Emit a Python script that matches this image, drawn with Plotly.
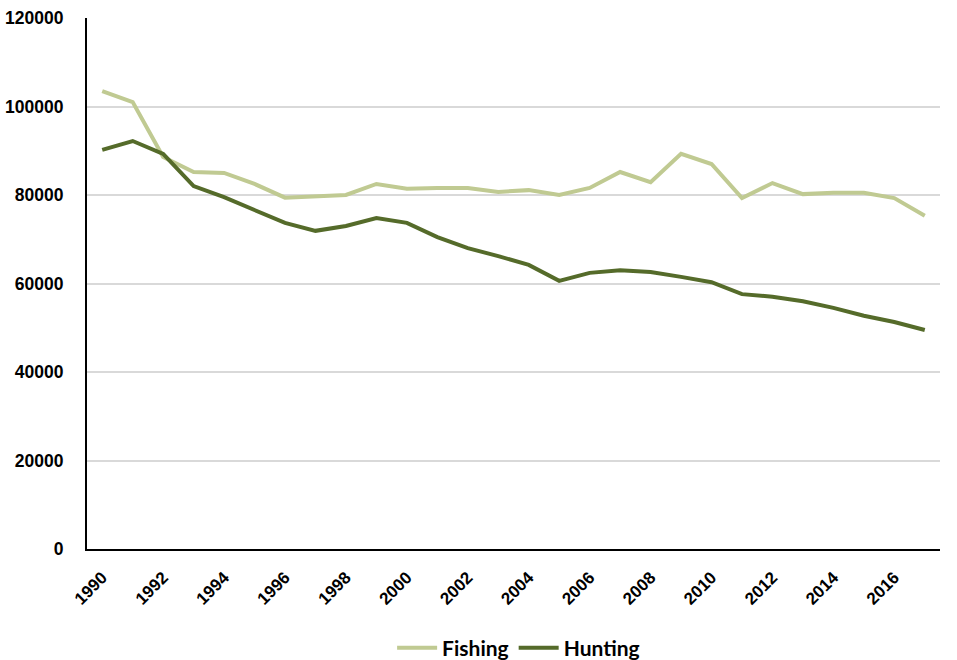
import plotly.graph_objects as go

years = list(range(1990, 2018))
fishing = [103500, 101000, 88600, 85200, 85000, 82500, 79400, 79600, 80000, 82500,
           81400, 81600, 81600, 80700, 81100, 80000, 81600, 85200, 82900, 89300,
           87000, 79300, 82700, 80200, 80500, 80500, 79300, 75300]
hunting = [90200, 92200, 89300, 82000, 79500, 76600, 73700, 71900, 73000, 74800,
           73700, 70500, 68000, 66200, 64200, 60600, 62400, 63000, 62600, 61500,
           60300, 57600, 57000, 56000, 54500, 52700, 51300, 49500]
tick_years = list(range(1990, 2018, 2))

tick_font = "Liberation Sans, Arial, sans-serif"
legend_font = "Lato, Carlito, Calibri, sans-serif"

fig = go.Figure()
fig.add_trace(go.Scatter(x=years, y=fishing, mode="lines", name="Fishing",
                         line=dict(color="#C0CA92", width=4)))
fig.add_trace(go.Scatter(x=years, y=hunting, mode="lines", name="Hunting",
                         line=dict(color="#556B2A", width=4)))

fig.update_layout(
    width=957, height=660,
    margin=dict(l=87, r=17, t=18, b=111, autoexpand=False),
    paper_bgcolor="white", plot_bgcolor="white",
    font=dict(family=tick_font, color="black", size=16),
    showlegend=True,
    legend=dict(orientation="h", x=0.506, xanchor="center",
                yref="container", y=0.018, yanchor="middle",
                font=dict(size=21, family=legend_font, weight="bold"),
                itemwidth=40, traceorder="normal"),
    xaxis=dict(range=[1989.5, 2017.5], tickmode="array", tickvals=tick_years,
               ticktext=[str(y) for y in tick_years], tickangle=-45,
               showline=True, linecolor="black", linewidth=2, showgrid=False,
               zeroline=False, ticks="", automargin=False, ticklabelstandoff=10,
               tickfont=dict(size=17, family=tick_font, weight="bold")),
    yaxis=dict(range=[0, 120000], dtick=20000, tickformat="d",
               showline=True, linecolor="black", linewidth=2,
               showgrid=True, gridcolor="#D9D9D9", gridwidth=1.5,
               zeroline=False, ticks="", automargin=False, ticklabelstandoff=18,
               tickfont=dict(size=17.5, family=tick_font, weight="bold")),
)

fig.write_html("out.html", config={"displayModeBar": False},
               post_script="document.body.style.margin='0';document.body.style.overflow='hidden';")
